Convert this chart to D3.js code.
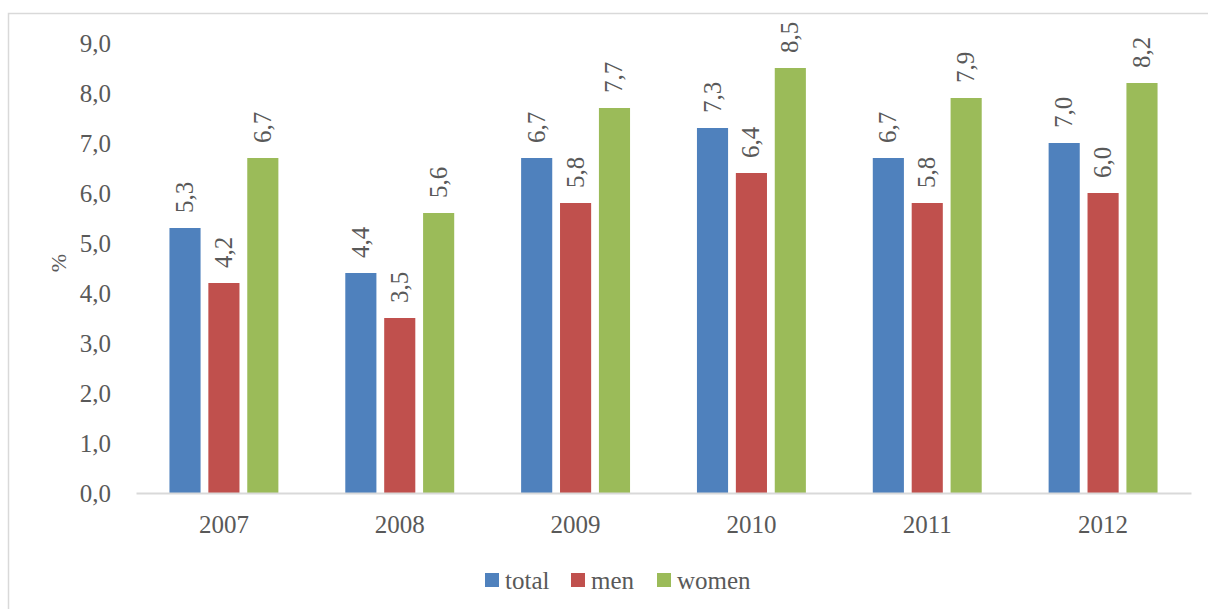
<!DOCTYPE html>
<html>
<head>
<meta charset="utf-8">
<script src="https://cdn.jsdelivr.net/npm/d3@7"></script>
<style>
  body { margin: 0; background: #fff; }
</style>
</head>
<body>
<div id="chart"></div>
<script>
// DATA
const years = ["2007", "2008", "2009", "2010", "2011", "2012"];
const seriesNames = ["total", "men", "women"];
const total = [5.3, 4.4, 6.7, 7.3, 6.7, 7.0];
const men = [4.2, 3.5, 5.8, 6.4, 5.8, 6.0];
const women = [6.7, 5.6, 7.7, 8.5, 7.9, 8.2];
const yTicks = [0, 1, 2, 3, 4, 5, 6, 7, 8, 9];
const colors = ["#4f81bd", "#c0504d", "#9bbb59"];

const width = 1208, height = 609;
const margin = {top: 43, right: 17, bottom: 116, left: 136};
const FONT = "'Liberation Serif', 'Times New Roman', 'DejaVu Serif', serif";
const fmt = d => d.toFixed(1).replace(".", ",");

const svg = d3.select("#chart").append("svg")
  .attr("width", width)
  .attr("height", height)
  .style("font-family", FONT);

// FRAME
svg.append("rect")
  .attr("x", 8.5).attr("y", 13.5)
  .attr("width", width).attr("height", height)
  .attr("fill", "none")
  .attr("stroke", "#d9d9d9")
  .attr("stroke-width", 1.5);

const x0 = d3.scaleBand()
  .domain(years)
  .range([margin.left, width - margin.right]);

const x1 = d3.scaleBand()
  .domain(seriesNames)
  .range([0, x0.bandwidth()])
  .paddingInner(0.2)
  .paddingOuter(0.86);

const y = d3.scaleLinear()
  .domain([0, 9])
  .range([height - margin.bottom, margin.top]);

const rows = years.map((yr, i) => ({
  year: yr,
  values: [total[i], men[i], women[i]]
}));

// BARS
const groups = svg.selectAll("g.year")
  .data(rows)
  .join("g")
  .attr("class", "year")
  .attr("transform", d => `translate(${x0(d.year)},0)`);

groups.selectAll("rect")
  .data(d => d.values.map((v, j) => ({name: seriesNames[j], value: v, j: j})))
  .join("rect")
  .attr("x", d => x1(d.name))
  .attr("width", x1.bandwidth())
  .attr("y", d => y(d.value))
  .attr("height", d => y(0) - y(d.value))
  .attr("fill", d => colors[d.j]);

// VALUE LABELS (rotated)
groups.selectAll("text.val")
  .data(d => d.values.map((v, j) => ({name: seriesNames[j], value: v})))
  .join("text")
  .attr("class", "val")
  .attr("transform", d => `translate(${x1(d.name) + x1.bandwidth() / 2 + 8},${y(d.value) - 15}) rotate(-90)`)
  .attr("text-anchor", "start")
  .style("font-family", FONT)
  .attr("font-size", "25px")
  .attr("fill", "#595959")
  .text(d => fmt(d.value));

// Y AXIS
const yAxis = svg.append("g")
  .attr("transform", `translate(${margin.left - 22},0)`)
  .call(d3.axisLeft(y).tickValues(yTicks).tickSize(0).tickFormat(fmt));
yAxis.attr("font-family", null);
yAxis.select(".domain").remove();
yAxis.selectAll("text")
  .attr("font-size", "25px")
  .style("font-family", FONT)
  .attr("fill", "#595959")
  .attr("dy", "0.35em");

// X AXIS
const xAxis = svg.append("g")
  .attr("transform", `translate(0,${y(0)})`)
  .call(d3.axisBottom(x0).tickSize(0).tickPadding(22));
xAxis.attr("font-family", null);
xAxis.select(".domain")
  .attr("stroke", "#d9d9d9")
  .attr("stroke-width", 2);
xAxis.selectAll("text")
  .attr("font-size", "25px")
  .style("font-family", FONT)
  .attr("fill", "#595959");

// Y LABEL
svg.append("text")
  .attr("transform", `translate(${66},${263}) rotate(-90)`)
  .attr("text-anchor", "middle")
  .style("font-family", FONT)
  .attr("font-size", "22px")
  .attr("fill", "#595959")
  .text("%");

// LEGEND
const legendX = [485, 571, 657];
const legend = svg.selectAll("g.legend")
  .data(seriesNames)
  .join("g")
  .attr("class", "legend")
  .attr("transform", (d, i) => `translate(${legendX[i]},573)`);
legend.append("rect")
  .attr("width", 14).attr("height", 14)
  .attr("fill", (d, i) => colors[i]);
legend.append("text")
  .attr("x", 20).attr("y", 7)
  .attr("dy", "0.35em")
  .style("font-family", FONT)
  .attr("font-size", "25px")
  .attr("fill", "#595959")
  .text(d => d);
</script>
</body>
</html>
